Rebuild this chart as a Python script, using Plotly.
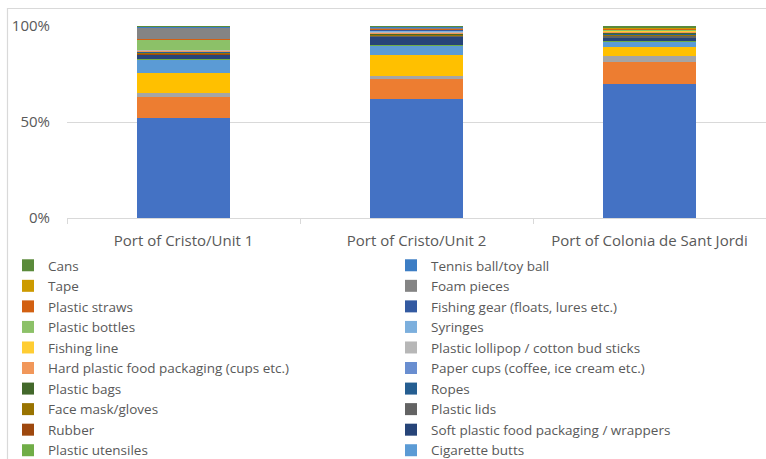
import plotly.graph_objects as go

categories = ["Port of Cristo/Unit 1", "Port of Cristo/Unit 2", "Port of Colonia de Sant Jordi"]

# series listed bottom-of-stack first; first four are not visible in the (cropped) legend
series_names = [
    "Unlabelled 1", "Unlabelled 2", "Unlabelled 3", "Unlabelled 4",
    "Cigarette butts", "Plastic utensiles", "Soft plastic food packaging / wrappers", "Rubber",
    "Plastic lids", "Face mask/gloves", "Ropes", "Plastic bags",
    "Paper cups (coffee, ice cream etc.)", "Hard plastic food packaging (cups etc.)",
    "Plastic lollipop / cotton bud sticks", "Fishing line", "Syringes", "Plastic bottles",
    "Fishing gear (floats, lures etc.)", "Plastic straws", "Foam pieces", "Tape",
    "Tennis ball/toy ball", "Cans",
]
series_colors = [
    "#4472C4", "#ED7D31", "#A5A5A5", "#FFC000",
    "#5B9BD5", "#70AD47", "#264478", "#9E480E",
    "#636363", "#997300", "#255E91", "#43682B",
    "#698ED0", "#F1975A", "#B7B7B7", "#FFCD33", "#7CAFDD", "#8CC168",
    "#335AA1", "#D26012", "#848484", "#CC9A00", "#3C7DC4", "#5A8A3A",
]
unit1 = [52.6, 10.9, 1.9, 10.6, 7.3, 0.3, 2.4, 0.2, 0.4, 0.5, 0.1, 0.2,
         0.2, 0.5, 0.1, 0.1, 0.1, 5.1, 0.1, 0.5, 5.9, 0.2, 0.3, 0.3]
unit2 = [62.3, 10.4, 1.2, 11.3, 4.9, 0.2, 4.2, 0.2, 0.6, 0.4, 0.2, 0.2,
         0.3, 0.5, 0.3, 0.2, 0.4, 0.3, 0.2, 0.5, 0.5, 0.2, 0.2, 0.5]
colonia = [69.8, 11.5, 3.1, 4.9, 2.8, 0.3, 1.8, 0.2, 0.7, 0.7, 0.5, 0.3,
           0.3, 0.2, 0.3, 0.2, 0.3, 0.3, 0.3, 0.2, 0.4, 0.2, 0.3, 0.6]
y_ticks = [0, 50, 100]
y_tick_labels = ["0%", "50%", "100%"]

FONT = "Open Sans"
GREY = "#595959"
LINE = "#D9D9D9"

fig = go.Figure()
for i, name in enumerate(series_names):
    fig.add_trace(go.Bar(
        x=categories,
        y=[unit1[i], unit2[i], colonia[i]],
        name=name,
        marker=dict(color=series_colors[i], line=dict(width=0)),
        showlegend=i >= 4,
    ))

W, H = 766, 459
L, R, T, B = 67, 0, 26, 241
pw, ph = W - L - R, H - T - B

def px_x(p):
    return (p - L) / pw

def px_y(p):
    return (H - B - p) / ph

fig.update_layout(
    width=W, height=H,
    barmode="stack", barnorm="percent", bargap=0.6,
    plot_bgcolor="white", paper_bgcolor="white",
    margin=dict(l=L, r=R, t=T, b=B, autoexpand=False),
    font=dict(family=FONT, size=15, color=GREY),
    xaxis=dict(
        type="category", showline=True, linecolor=LINE, linewidth=1,
        ticks="outside", tickson="boundaries", ticklen=5, tickcolor=LINE,
        showgrid=False, tickfont=dict(family=FONT, size=15, color=GREY),
        ticklabelstandoff=9,
    ),
    yaxis=dict(
        range=[0, 100], tickvals=y_ticks, ticktext=y_tick_labels,
        showgrid=True, gridcolor=LINE, gridwidth=1, zeroline=False,
        showline=False, ticks="", ticklabelstandoff=16,
        tickfont=dict(family=FONT, size=15, color=GREY),
    ),
    legend=dict(
        orientation="h", traceorder="reversed",
        x=px_x(8), y=px_y(250), xanchor="left", yanchor="top",
        entrywidth=338, entrywidthmode="pixels",
        font=dict(family=FONT, size=13.5, color=GREY),
        bgcolor="rgba(0,0,0,0)", maxheight=400, itemclick=False,
    ),
    shapes=[
        dict(type="path", xref="paper", yref="paper",
             path=f"M {px_x(7.5)},{px_y(480)} L {px_x(7.5)},{px_y(8.5)} L {px_x(780)},{px_y(8.5)}",
             line=dict(color=LINE, width=1.2), layer="below"),
    ],
)

fig.write_html("out.html")
